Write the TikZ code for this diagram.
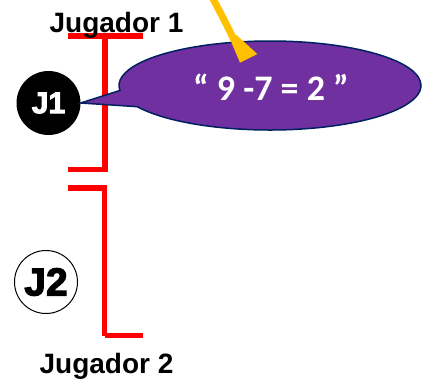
\documentclass[tikz,border=0pt]{standalone}
\usepackage{fontspec}
\setmainfont{Liberation Sans}
\newfontfamily\quotefont{Carlito}
\newfontfamily\heavyfont{Liberation Sans}[UprightFont={* Bold},FakeBold=3]
\usetikzlibrary{shapes.callouts}
\definecolor{bubblefill}{HTML}{7030A0}
\definecolor{bubbleline}{HTML}{002060}
\definecolor{arrowyellow}{HTML}{FFC000}
\tikzset{
  redbar/.style={draw=red, line width=5.5pt},
  playerlabel/.style={anchor=base, inner sep=0pt, font=\fontsize{28}{30}\selectfont\bfseries},
  jcircle/.style={circle, minimum size=64pt, inner sep=0pt},
}
\begin{document}
\begin{tikzpicture}[x=1pt,y=-1pt]
\useasboundingbox (0,0) rectangle (425,380);
% brackets
\draw[redbar] (68,36) -- (143,36);
\draw[redbar, line join=miter] (68,169.5) -| (105,36);
\draw[redbar, line join=miter] (68,188) -| (104.5,335.5);
\draw[redbar] (104.5,335.5) -- (143,335.5);
% labels
\node[playerlabel] (lab1) at (116.5,32) {Jugador 1};
\node[playerlabel] (lab2) at (106.5,373.5) {Jugador 2};
% players
\node[jcircle, fill=black, text=white] (j1) at (48.5,103) {\heavyfont\fontsize{30}{31}\selectfont J1};
\node[jcircle, draw=black, line width=1pt, fill=white, minimum size=63pt] (j2) at (46,282) {\heavyfont\fontsize{39}{40}\selectfont J2};
% speech bubble
\node[ellipse callout, draw=bubbleline, line width=1.5pt, fill=bubblefill,
      minimum width=302pt, minimum height=89pt, inner sep=0pt,
      callout absolute pointer={(j1.east)}, callout pointer arc=22] (bubble) at (270,85.5) {};
\node[anchor=base, inner sep=0pt, text=white, font=\quotefont\fontsize{36}{38}\selectfont\bfseries] (eq) at (271,100.5) {“ 9 -7 = 2 ”};
% yellow arrow
\coordinate (arrtop) at (211.5,-4);
\coordinate (arrend) at (234,40);
\draw[arrowyellow, line width=7pt] (arrtop) .. controls (220,12) and (228,27) .. (arrend);
\fill[arrowyellow] (230,39) -- (236.5,35) -- (257.3,54) -- (240,62.7) -- cycle;
\end{tikzpicture}
\end{document}
